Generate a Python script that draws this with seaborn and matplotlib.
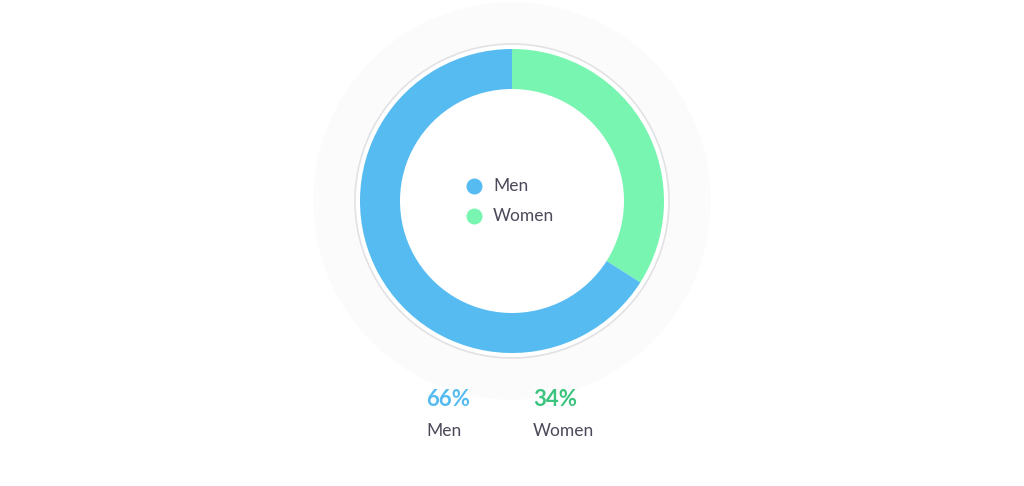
import numpy as np
import matplotlib.pyplot as plt
import seaborn as sns
from matplotlib.patches import Circle

sns.set_theme(style="white")
plt.rcParams['font.family'] = ['Lato', 'DejaVu Sans']

labels = ['Women', 'Men']
shares = [34, 66]
colors = ['#78F5B0', '#56BBF1']
pct_colors = ['#3CC47E', '#56BBF1']

H = 486
fig = plt.figure(figsize=(10.24, 4.86), dpi=100)
ax = fig.add_axes([0, 0, 1, 1])
ax.set_xlim(0, 1024)
ax.set_ylim(0, H)
ax.set_aspect('equal')
ax.axis('off')

cx, cy = 512, H - 201
# faint halo and thin outline ring
ax.add_patch(Circle((cx, cy), 198, color='#FBFBFB', zorder=0))
ax.add_patch(Circle((cx, cy), 157, facecolor='white', edgecolor='#E2E2E6', lw=1.2, zorder=1))

wedges, _ = ax.pie(shares, colors=colors, startangle=90, counterclock=False,
                   center=(cx, cy), radius=152, frame=True,
                   wedgeprops=dict(width=40, linewidth=0))
for w in wedges:
    w.set_zorder(2)
ax.set_xlim(0, 1024)
ax.set_ylim(0, H)
ax.axis('off')

# center legend
for i, name in enumerate(['Men', 'Women']):
    y = H - (186 + 30 * i)
    c = colors[1] if name == 'Men' else colors[0]
    ax.scatter([474], [y], s=110, color=c, zorder=3)
    ax.text(493, y, name, va='center', ha='left', fontsize=12.5, color='#4A4A5A', zorder=3)

# bottom stats
for name, share, pc, x in [('Men', shares[1], pct_colors[1], 426), ('Women', shares[0], pct_colors[0], 533)]:
    ax.text(x, H - 400, f'{share}%', ha='left', va='center', fontsize=16, fontweight='bold', color=pc)
    ax.text(x, H - 431, name, ha='left', va='center', fontsize=12.5, color='#4A4A5A')

fig.savefig('out.png', dpi=100)
